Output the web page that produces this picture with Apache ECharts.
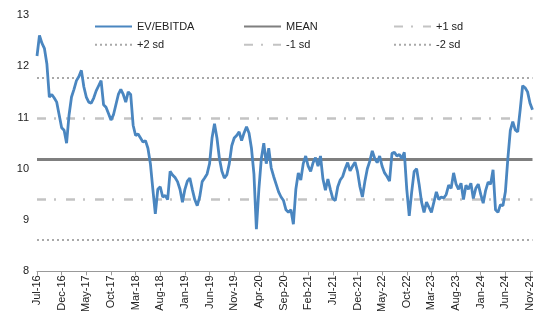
<!DOCTYPE html>
<html>
<head>
<meta charset="utf-8">
<script src="https://cdn.jsdelivr.net/npm/echarts@6/dist/echarts.min.js"></script>
<style>
    html, body { margin: 0; padding: 0; background: #fff; }
    #chart { width: 541px; height: 315px; }
</style>
</head>
<body>
<div id="chart"></div>
<script>
    // EV/EBITDA, two readings per month from Jul-16
    const evEbitda = [
        12.2, 12.6, 12.45, 12.35, 12.05, 11.4, 11.45, 11.38, 11.3, 11.05,
        10.8, 10.75, 10.5, 11.05, 11.4, 11.55, 11.72, 11.8, 11.92, 11.6,
        11.4, 11.3, 11.28, 11.38, 11.52, 11.62, 11.72, 11.25, 11.2, 11.08,
        10.95, 11.05, 11.25, 11.45, 11.55, 11.45, 11.3, 11.5, 11.45, 10.85,
        10.65, 10.68, 10.6, 10.52, 10.55, 10.4, 10.1, 9.6, 9.12, 9.6,
        9.65, 9.45, 9.48, 9.4, 9.95, 9.88, 9.83, 9.75, 9.6, 9.35,
        9.6, 9.76, 9.82, 9.6, 9.4, 9.28, 9.45, 9.75, 9.82, 9.9,
        10.1, 10.6, 10.88, 10.6, 10.2, 9.95, 9.82, 9.88, 10.1, 10.45,
        10.6, 10.65, 10.72, 10.55, 10.7, 10.82, 10.7, 10.4, 9.9, 8.82,
        9.6, 10.2, 10.5, 10.1, 10.4, 10.02, 9.85, 9.7, 9.55, 9.45,
        9.38, 9.2, 9.15, 9.2, 8.92, 9.6, 9.92, 9.78, 10.1, 10.25,
        10.05, 9.95, 10.12, 10.22, 10.05, 10.25, 9.8, 9.58, 9.8, 9.6,
        9.42, 9.38, 9.65, 9.78, 9.85, 10.0, 10.12, 9.96, 10.05, 10.13,
        9.95, 9.65, 9.45, 9.75, 10.0, 10.15, 10.35, 10.2, 10.12, 10.25,
        10.05, 9.92, 9.85, 9.76, 10.3, 10.32, 10.25, 10.28, 10.2, 10.32,
        9.6, 9.08, 9.55, 9.95, 10.0, 9.7, 9.35, 9.15, 9.35, 9.25,
        9.15, 9.35, 9.55, 9.4, 9.45, 9.43, 9.5, 9.68, 9.62, 9.92,
        9.7, 9.6, 9.72, 9.4, 9.68, 9.6, 9.72, 9.42, 9.62, 9.7,
        9.5, 9.33, 9.58, 9.74, 9.7, 9.98, 9.2, 9.15, 9.3, 9.28,
        9.55, 10.2, 10.75, 10.92, 10.76, 10.72, 11.15, 11.62, 11.58, 11.5,
        11.28, 11.15
    ];

    const bandNames = ['MEAN', '+1 sd', '+2 sd', '-1 sd', '-2 sd'];
    const bandValues = [10.19, 10.98, 11.77, 9.40, 8.61];

    const monthNames = ['Jan', 'Feb', 'Mar', 'Apr', 'May', 'Jun', 'Jul', 'Aug', 'Sep', 'Oct', 'Nov', 'Dec'];
    const categories = [];
    for (let i = 0; i < evEbitda.length; i++) {
        let m = 6 + Math.floor(i / 2);
        let label = monthNames[m % 12] + '-' + (16 + Math.floor(m / 12));
        categories.push(i % 2 ? label + ' b' : label);
    }

    const font = 'Liberation Sans';
    const dashDot = [9, 8, 2, 10];
    const dotted = [2, 3];
    const bandStyles = [
        { color: '#7f7f7f', width: 3, type: 'solid' },
        { color: '#c3c3c3', width: 2.5, type: dashDot },
        { color: '#a9a9a9', width: 2, type: dotted },
        { color: '#c3c3c3', width: 2.5, type: dashDot },
        { color: '#a9a9a9', width: 2, type: dotted }
    ];

    let series = bandNames.map((name, i) => ({
        name: name,
        type: 'line',
        symbol: 'none',
        z: 2,
        lineStyle: bandStyles[i],
        itemStyle: { color: bandStyles[i].color },
        data: [],
        markLine: {
            silent: true,
            symbol: 'none',
            label: { show: false },
            lineStyle: bandStyles[i],
            data: [{ yAxis: bandValues[i] }]
        }
    }));
    series.push({
        name: 'EV/EBITDA',
        type: 'line',
        symbol: 'none',
        z: 5,
        lineStyle: { color: '#4a86c0', width: 2.8 },
        itemStyle: { color: '#4a86c0' },
        data: evEbitda
    });

    function legendCol(left, names) {
        return {
            orient: 'vertical',
            left: left,
            top: 21,
            padding: 0,
            itemWidth: 37,
            itemHeight: 14,
            itemGap: 7,
            itemStyle: { opacity: 0 },
            textStyle: { fontFamily: font, fontSize: 11, color: '#222' },
            data: names
        };
    }

    const chart = echarts.init(document.getElementById('chart'));
    chart.setOption({
        animation: false,
        grid: { left: 37, right: 8.5, top: 15, bottom: 36 },
        legend: [
            legendCol(94, ['EV/EBITDA', '+2 sd']),
            legendCol(243, ['MEAN', '-1 sd']),
            legendCol(393, ['+1 sd', '-2 sd'])
        ],
        xAxis: {
            type: 'category',
            boundaryGap: false,
            data: categories,
            axisLine: { lineStyle: { color: '#999' } },
            axisTick: { interval: 9, length: 4, lineStyle: { color: '#999' } },
            axisLabel: {
                interval: 9,
                rotate: 90,
                margin: 4,
                fontFamily: font,
                fontSize: 11,
                color: '#222'
            },
            splitLine: { show: false }
        },
        yAxis: {
            type: 'value',
            min: 8,
            max: 13,
            interval: 1,
            axisLine: { show: false },
            axisTick: { show: false },
            splitLine: { show: false },
            axisLabel: { margin: 8, fontFamily: font, fontSize: 11, color: '#222' }
        },
        series: series
    });
</script>
</body>
</html>
